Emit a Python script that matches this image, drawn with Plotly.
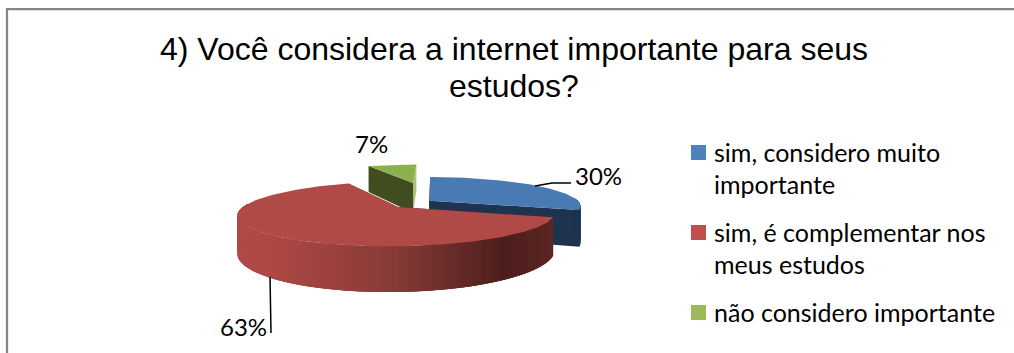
import math
import plotly.graph_objects as go

# Survey answers, in percent
categories = ["sim, considero muito\nimportante", "sim, é complementar nos\nmeus estudos", "não considero importante"]
values = [30, 63, 7]
title_lines = ["4) Você considera a internet importante para seus", "estudos?"]

# Colours for each wedge: top face, cut face at the start, cut face at the end, rim
TOP = ["#4A7AB3", "#B04A46", "#8DB04F"]
START_FACE = ["#1D3350", "#4E1E1C", "#404D20"]
END_FACE = ["#1D3350", "#4E1E1C", "#A9C47A"]
SWATCH = ["#4F81BD", "#C0504D", "#9BBB59"]
RED_RIM = [(0.0, (176, 74, 70)), (0.12, (172, 72, 68)), (0.5, (135, 58, 55)), (0.85, (76, 30, 28)), (1.0, (92, 38, 36))]

# Camera model for the tilted disc, in page pixels
VANISH_X = 435
U_SHIFT = 0.239
ORIGIN_Y = 207
RX, RY = 155, 31
PERSPECTIVE = 0.212
THICKNESS = 36
APEX = [(0.20, 0.214), (0.0, 0.0), (0.07, 0.926)]


def project(u, v, drop=0.0):
    w = 1 + PERSPECTIVE * v
    return VANISH_X + RX * (u - U_SHIFT) / w, ORIGIN_Y - RY * v / w + THICKNESS * drop / w


def rim_point(i, theta, drop=0.0):
    au, av = APEX[i]
    return project(au + math.sin(theta), av + math.cos(theta), drop)


def polygon(points, color):
    return go.Scatter(
        x=[p[0] for p in points] + [points[0][0]],
        y=[p[1] for p in points] + [points[0][1]],
        mode="lines", fill="toself", fillcolor=color,
        line=dict(color=color, width=0),
        hoverinfo="skip", showlegend=False,
    )


def blend(t):
    for (a, ca), (b, cb) in zip(RED_RIM, RED_RIM[1:]):
        if t <= b:
            f = (t - a) / (b - a)
            return "rgb(%d,%d,%d)" % tuple(round(x + (y - x) * f) for x, y in zip(ca, cb))
    return "rgb(%d,%d,%d)" % RED_RIM[-1][1]


def wedge_traces(i, start, end):
    au, av = APEX[i]
    out = []
    # Flat cuts along both radial edges
    for theta, col in ((end, END_FACE[i]), (start, START_FACE[i])):
        out.append(polygon([project(au, av), rim_point(i, theta), rim_point(i, theta, 1), project(au, av, 1)], col))
    # Curved outer wall, only where it faces the viewer
    steps = max(8, int((end - start) / 0.02))
    angles = [start + (end - start) * k / steps for k in range(steps + 1)]
    front = [t for t in angles if math.cos(t) < 0.12]
    if len(front) > 1:
        xs = [rim_point(i, t)[0] for t in front]
        lo, hi = min(xs), max(xs)
        # Bands overlap their neighbour so no gaps show between them
        for k in range(len(front) - 1):
            a, b = front[k], front[min(k + 3, len(front) - 1)]
            mx = (rim_point(i, front[k])[0] + rim_point(i, front[k + 1])[0]) / 2
            col = blend((mx - lo) / (hi - lo)) if i == 1 else START_FACE[i]
            out.append(polygon([rim_point(i, a), rim_point(i, b), rim_point(i, b, 1), rim_point(i, a, 1)], col))
    # Top surface
    top = [project(au, av)] + [rim_point(i, t) for t in angles]
    out.append(polygon(top, TOP[i]))
    return out


total = sum(values)
bounds = []
acc = 0.0
for v in values:
    bounds.append((acc / total * 2 * math.pi, (acc + v) / total * 2 * math.pi))
    acc += v

fig = go.Figure()
# Painted back to front: green, blue, red
for i in (2, 0, 1):
    fig.add_traces(wedge_traces(i, *bounds[i]))

# Leader lines to the percentage labels
for xs, ys in (([535, 552, 571], [186, 183, 183]), ([270, 271], [277, 333])):
    fig.add_trace(go.Scatter(x=xs, y=ys, mode="lines", line=dict(color="#000000", width=1.5),
                             hoverinfo="skip", showlegend=False))

# Legend swatches
SW_X = 698.5
SW_Y = [152.5, 232.5, 312.5]
fig.add_trace(go.Scatter(x=[SW_X] * 3, y=SW_Y, mode="markers", hoverinfo="skip", showlegend=False,
                         marker=dict(symbol="square", size=15, color=SWATCH, line=dict(width=0))))

annotations = []


def text(x, y, s, size, family, anchor="left"):
    annotations.append(dict(x=x, y=y, xref="x", yref="y", text=s, showarrow=False, xanchor=anchor, yanchor="middle",
                            font=dict(family=family, size=size, color="#000000")))


for k, line in enumerate(title_lines):
    text(514, 49 + 36.5 * k, line, 32, "Liberation Sans", "center")

LEGEND_FONT = "Lato"
for y, label in zip(SW_Y, categories):
    for k, line in enumerate(label.split("\n")):
        text(712, y - 0.5 + 32 * k, line, 25, LEGEND_FONT)

pct = [f"{v}%" for v in values]
text(598, 175, pct[0], 24, LEGEND_FONT, "center")
text(243, 326, pct[1], 24, LEGEND_FONT, "center")
text(371, 143, pct[2], 24, LEGEND_FONT, "center")

fig.update_layout(
    width=1014, height=353, margin=dict(l=0, r=0, t=0, b=0),
    paper_bgcolor="#FFFFFF", plot_bgcolor="#FFFFFF", showlegend=False,
    xaxis=dict(range=[0, 1014], visible=False, fixedrange=True),
    yaxis=dict(range=[353, 0], visible=False, fixedrange=True),
    annotations=annotations,
    shapes=[dict(type="rect", xref="x", yref="y", x0=7, y0=9, x1=1030, y1=370,
                 line=dict(color="#868686", width=2.25), fillcolor="rgba(0,0,0,0)", layer="below")],
)

fig.write_html("out.html", config={"displayModeBar": False})
